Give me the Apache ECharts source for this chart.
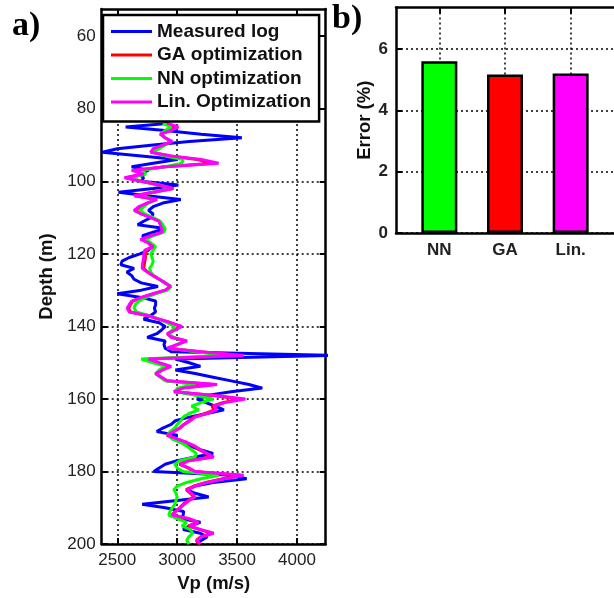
<!DOCTYPE html>
<html><head><meta charset="utf-8">
<script src="https://cdn.jsdelivr.net/npm/echarts@6/dist/echarts.min.js"></script>
<style>html,body{margin:0;padding:0;background:#fff}#c{width:614px;height:598px}</style>
</head><body><div id="c"></div><script>
// Depth samples (m)
const depth = [84,85,86,87,88,89,90,91,92,93,94,95,96,97,98,99,100,101,102,103,104,105,106,107,108,109,110,
  111,112,113,114,115,116,117,118,119,120,121,122,123,124,125,126,127,128,129,130,131,132,133,134,135,136,137,
  138,139,140,141,142,143,144,145,146,147,148,149,150,151,152,153,154,155,156,157,158,159,160,161,162,163,164,
  165,166,167,168,169,170,171,172,173,174,175,176,177,178,179,180,181,182,183,184,185,186,187,188,189,190,191,
  192,193,194,195,196,197,198,199,200];
// P-wave velocity (m/s) per depth sample
const measured = [2940,2570,2900,3200,3540,3100,2800,2500,2375,2700,3000,2800,2620,2760,2680,2720,2700,3010,2800,2510,2750,3030,2880,2800,2760,2800,2780,
  2720,2670,2900,2800,2710,2740,2760,2790,2760,2690,2600,2540,2530,2640,2580,2620,2640,2700,2840,2700,2500,2700,2820,2820,2810,2820,2780,
  2720,2850,2900,2870,2830,2750,2900,2890,2900,2950,4300,2985,3100,3194,2985,3150,3300,3450,3600,3710,3450,3250,3166,3240,3320,3390,3250,
  3100,2985,2950,2880,2830,3000,2960,3040,3110,3194,3300,3150,3000,2900,2850,2805,3450,3580,3300,3150,3080,3150,3263,3000,2708,2900,3055,
  3050,3040,3194,3100,3050,3194,3250,3200,3166];
const gaOpt = [2905,2990,2940,2860,2900,2950,2885,2810,2785,2940,3170,3300,2900,2640,2725,2575,2700,2850,2965,2800,2650,2830,2750,2690,2650,2705,2785,
  2850,2865,2875,2878,2785,2705,2765,2805,2740,2735,2735,2730,2725,2720,2755,2800,2850,2900,2945,2900,2800,2705,2630,2610,2595,2610,2752,
  2848,2945,3030,2975,2920,2955,3075,3000,2925,3190,3520,2750,2840,2940,2875,2820,2865,2910,3300,3040,2975,3280,3530,3380,3290,3310,3235,
  3140,3100,3055,3020,2965,2915,2995,3075,3140,3185,3240,3290,3090,3020,3090,3140,3520,3380,3240,3140,3075,3110,3140,3090,3050,3020,2985,
  2955,3095,3170,3095,3190,3290,3195,3160,3185];
const nnOpt = [2880,2950,2900,2860,2900,2950,2900,2850,2800,2900,3050,3040,2900,2700,2740,2620,2700,2850,2960,2800,2680,2830,2760,2720,2690,2730,2800,
  2860,2880,2900,2890,2800,2740,2780,2820,2800,2780,2790,2800,2790,2770,2780,2800,2850,2900,2950,2920,2820,2740,2680,2650,2640,2660,2760,
  2850,2920,2980,2960,2930,2970,3050,3000,2950,3150,3400,2700,2800,2900,2850,2820,2860,2900,3150,3000,2990,3150,3300,3200,3120,3180,3100,
  3050,3030,3000,2980,2940,2920,2960,3030,3080,3120,3160,3150,3020,2980,3000,3050,3347,3200,3080,3000,2972,2990,3000,2990,2980,2960,2940,
  2930,3000,3080,3040,3110,3130,3097,3080,3100];
const linOpt = [2917,3010,2950,2860,2900,2958,2880,2800,2778,2950,3200,3346,2900,2620,2720,2560,2700,2850,2970,2800,2640,2830,2750,2680,2640,2700,2780,
  2847,2860,2870,2875,2780,2694,2760,2800,2730,2722,2720,2715,2710,2708,2750,2800,2850,2900,2944,2900,2800,2700,2620,2600,2583,2600,2750,
  2847,2950,3040,2980,2917,2950,3083,3000,2917,3200,3555,2763,2850,2950,2880,2820,2870,2917,3333,3050,2972,3300,3570,3400,3305,3330,3250,
  3150,3110,3060,3027,2970,2917,3000,3083,3150,3194,3250,3305,3100,3027,3097,3150,3555,3400,3250,3150,3083,3120,3150,3100,3060,3027,2990,
  2958,3100,3180,3100,3200,3305,3200,3166,3194];

// Error summary
const methods = ['NN', 'GA', 'Lin.'];
const errorPct = [5.6, 5.17, 5.2];

// Tick labels
const depthTicks = [60, 80, 100, 120, 140, 160, 180, 200];
const vpTicks = [2500, 3000, 3500, 4000];
const errTicks = [0, 2, 4, 6];
const methodPos = [1, 2, 3];

const FONT = '"Liberation Sans", Arial, sans-serif';
const SERIF = '"Liberation Serif", "Times New Roman", serif';
const black = '#000';
const dotted = { color: black, width: 1.5, type: [2, 3] };
const frame = { show: true, lineStyle: { color: black, width: 2.5 } };
const tickIn = (vals) => ({ show: true, inside: true, length: 6, customValues: vals, lineStyle: { color: black, width: 2 } });
const titleStyle = { fontFamily: FONT, fontWeight: 'bold', fontSize: 18.5, color: '#111' };

const pair = (vals) => depth.map((d, i) => [vals[i], d]);
const lineSeries = (name, color, vals) => ({
  name, type: 'line', xAxisIndex: 0, yAxisIndex: 0, data: pair(vals),
  showSymbol: false, symbol: 'none', clip: true,
  lineStyle: { color, width: 3 }, itemStyle: { color }
});

const chart = echarts.init(document.getElementById('c'), null, { renderer: 'canvas' });
chart.setOption({
  animation: false,
  backgroundColor: '#fff',
  textStyle: { fontFamily: FONT },
  grid: [
    { left: 101.7, top: 9, width: 224, height: 537 },
    { left: 396, top: 7.5, width: 225.8, height: 225.5 }
  ],
  legend: {
    left: 103, top: 15, orient: 'vertical',
    data: ['Measured log', 'GA optimization', 'NN optimization', 'Lin. Optimization'],
    icon: 'rect', itemWidth: 41, itemHeight: 3, itemGap: 2.5,
    padding: [6, 8, 9, 8],
    backgroundColor: '#fff', borderColor: black, borderWidth: 2.5,
    textStyle: { fontFamily: FONT, fontWeight: 'bold', fontSize: 19, color: '#111', lineHeight: 21 }
  },
  xAxis: [
    { gridIndex: 0, type: 'value', position: 'bottom', min: 2370, max: 4240,
      name: 'Vp (m/s)', nameLocation: 'middle', nameGap: 27, nameTextStyle: titleStyle,
      axisLine: frame, axisTick: tickIn(vpTicks),
      axisLabel: { customValues: vpTicks, fontSize: 17, color: '#222', margin: 8, formatter: (v) => String(v) },
      splitLine: { show: true, lineStyle: dotted } },
    { gridIndex: 0, type: 'value', position: 'top', min: 2370, max: 4240,
      axisLine: frame, axisTick: tickIn(vpTicks), axisLabel: { show: false }, splitLine: { show: false } },
    { gridIndex: 1, type: 'value', position: 'bottom', min: 0.34, max: 3.66,
      axisLine: frame, axisTick: tickIn(methodPos),
      axisLabel: { customValues: methodPos, fontSize: 17, fontWeight: 'bold', color: '#222', margin: 9,
        formatter: (v) => methods[Math.round(v) - 1] || '' },
      splitLine: { show: true, lineStyle: dotted } },
    { gridIndex: 1, type: 'value', position: 'top', min: 0.34, max: 3.66,
      axisLine: frame, axisTick: tickIn(methodPos), axisLabel: { show: false }, splitLine: { show: false } }
  ],
  yAxis: [
    { gridIndex: 0, type: 'value', inverse: true, position: 'left', min: 52.5, max: 200,
      name: 'Depth (m)', nameLocation: 'middle', nameGap: 45, nameRotate: 90, nameTextStyle: titleStyle,
      axisLine: frame, axisTick: tickIn(depthTicks),
      axisLabel: { customValues: depthTicks, fontSize: 17, color: '#222', margin: 6 },
      splitLine: { show: true, lineStyle: dotted } },
    { gridIndex: 0, type: 'value', inverse: true, position: 'right', min: 52.5, max: 200,
      axisLine: frame, axisTick: tickIn(depthTicks), axisLabel: { show: false }, splitLine: { show: false } },
    { gridIndex: 1, type: 'value', position: 'left', min: 0, max: 7.35,
      name: 'Error (%)', nameLocation: 'middle', nameGap: 22, nameRotate: 90, nameTextStyle: titleStyle,
      axisLine: frame, axisTick: tickIn(errTicks),
      axisLabel: { customValues: errTicks, fontSize: 17, fontWeight: 'bold', color: '#222', margin: 8 },
      splitLine: { show: true, lineStyle: dotted } }
  ],
  series: [
    lineSeries('Measured log', '#0000ff', measured),
    lineSeries('GA optimization', '#ff0000', gaOpt),
    lineSeries('NN optimization', '#00ff00', nnOpt),
    lineSeries('Lin. Optimization', '#ff00ff', linOpt),
    { type: 'bar', xAxisIndex: 2, yAxisIndex: 2, barWidth: 36,
      data: errorPct.map((v, i) => ({
        value: [methodPos[i], v],
        itemStyle: { color: ['#00ff00', '#ff0000', '#ff00ff'][i], borderColor: black, borderWidth: 2.5 }
      })) }
  ],
  graphic: [
    { type: 'text', left: 12, top: 9, style: { text: 'a)', font: 'bold 34px ' + SERIF, fill: '#000' } },
    { type: 'text', left: 332, top: 2, style: { text: 'b)', font: 'bold 34px ' + SERIF, fill: '#000' } }
  ]
});
</script></body></html>
